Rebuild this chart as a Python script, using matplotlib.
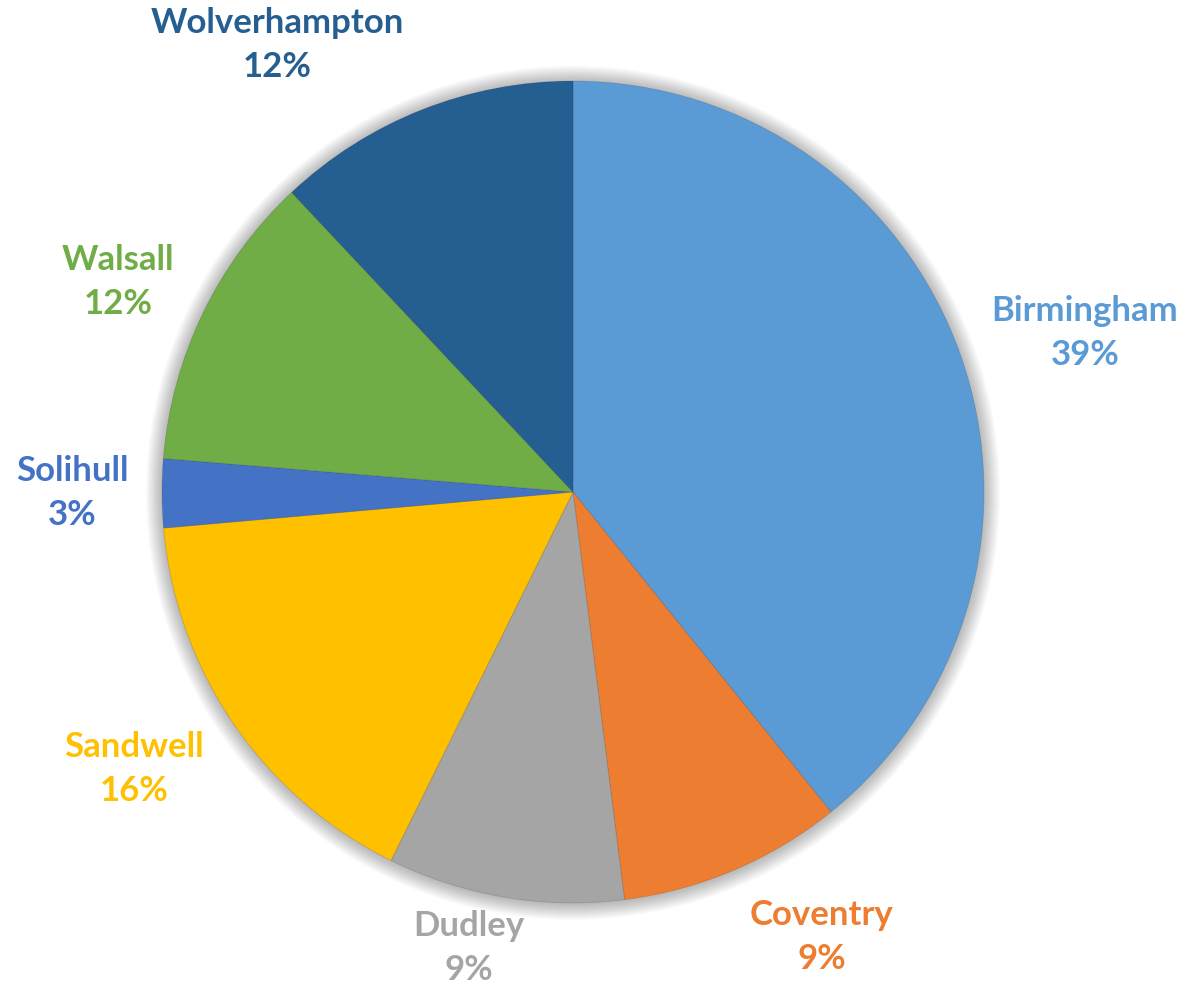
import matplotlib
matplotlib.use("Agg")
import matplotlib.pyplot as plt
from matplotlib.patches import Circle
import numpy as np

categories = ["Birmingham", "Coventry", "Dudley", "Sandwell", "Solihull", "Walsall", "Wolverhampton"]
values = [39.2, 8.8, 9.3, 16.3, 2.7, 11.7, 12.0]
colors = ["#5B9BD5", "#ED7D31", "#A5A5A5", "#FFC000", "#4472C4", "#70AD47", "#255E91"]

# label centre positions (data coords, pie radius = 1)
label_pos = [(1.2457, 0.3869), (0.6058, -1.0827), (-0.253, -1.1095),
             (-1.068, -0.674), (-1.219, -0.0024), (-1.107, 0.511), (-0.720, 1.0876)]

W, H, R = 1186, 984, 411
cx, cy = 573, 492
fig = plt.figure(figsize=(W / 100, H / 100), dpi=100)
ax = fig.add_axes([0, 0, 1, 1])
ax.set_xlim(-cx / R, (W - cx) / R)
ax.set_ylim(-(H - cy) / R, cy / R)
ax.set_aspect("equal")
ax.axis("off")

# soft shadow
for i in range(14):
    r = 1.0 + 0.0028 * (i + 1)
    ax.add_patch(Circle((0.0, -0.002), r, color="black", alpha=0.02, lw=0, zorder=0))

wedges, _ = ax.pie(values, colors=colors, startangle=90, counterclock=False,
                   radius=1.0, center=(0, 0),
                   wedgeprops=dict(linewidth=0.6, edgecolor="#00000022"))
for w in wedges:
    w.set_zorder(2)

total = sum(values)
for name, v, c, (x, y) in zip(categories, values, colors, label_pos):
    ax.text(x, y, f"{name}\n{v / total * 100:.0f}%", color=c, ha="center", va="center",
            fontsize=25, fontweight="bold", family=["Lato", "DejaVu Sans"],
            linespacing=1.45, zorder=3)

ax.set_xlim(-cx / R, (W - cx) / R)
ax.set_ylim(-(H - cy) / R, cy / R)
fig.savefig("out.png", dpi=100)
